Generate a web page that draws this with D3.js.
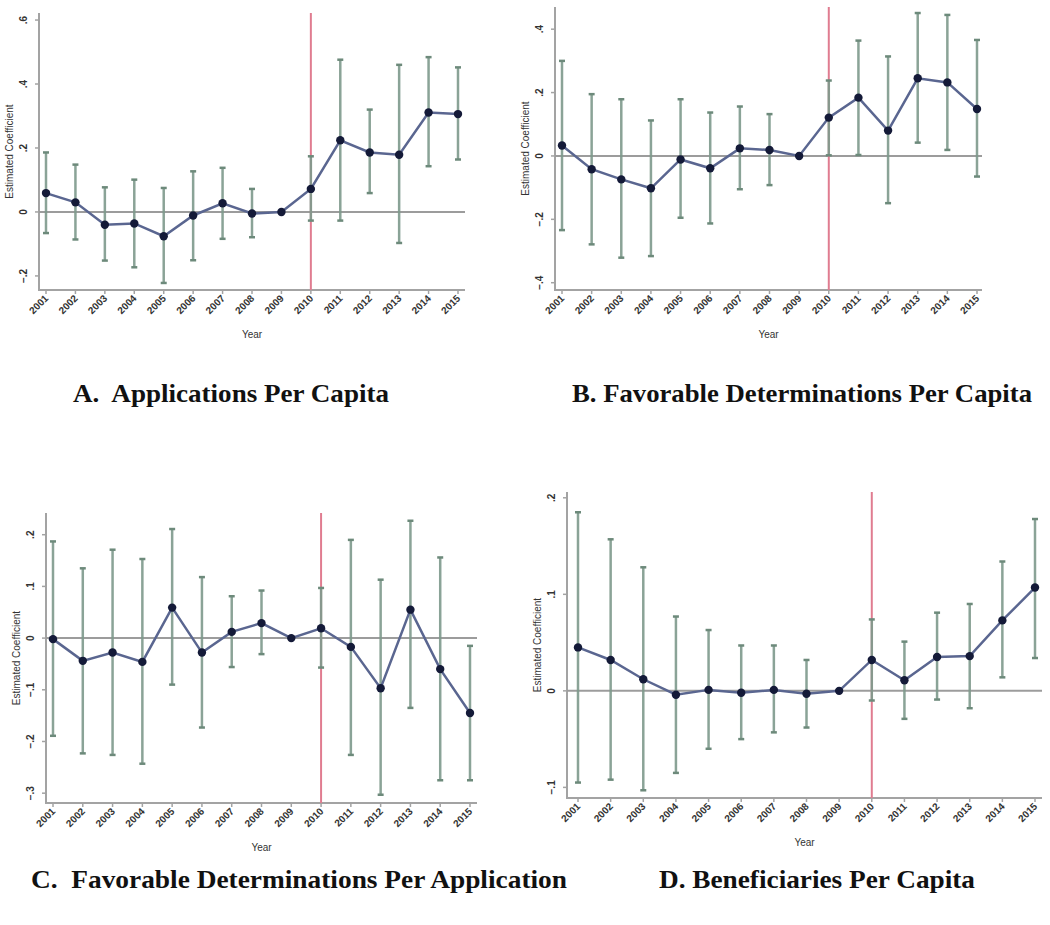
<!DOCTYPE html>
<html>
<head>
<meta charset="utf-8">
<script src="https://cdn.jsdelivr.net/npm/d3@7"></script>
<style>
  body { margin: 0; background: #fff; }
  svg { display: block; }
  .ptitle { white-space: pre; }
</style>
</head>
<body>
<svg id="chart" width="1050" height="925"></svg>
<script>
const years = d3.range(2001, 2016);
const eventYear = 2010;

// A. Applications per capita
const coefA = [0.059, 0.030, -0.040, -0.036, -0.076, -0.011, 0.027, -0.005, 0, 0.072, 0.224, 0.186, 0.179, 0.311, 0.306];
const lowA  = [-0.066, -0.086, -0.152, -0.173, -0.222, -0.151, -0.084, -0.079, 0, -0.027, -0.027, 0.059, -0.097, 0.143, 0.164];
const highA = [0.186, 0.148, 0.077, 0.101, 0.075, 0.127, 0.138, 0.072, 0, 0.174, 0.476, 0.320, 0.460, 0.484, 0.452];
const ticksA = [0.6, 0.4, 0.2, 0, -0.2];

// B. Favorable determinations per capita
const coefB = [0.033, -0.042, -0.074, -0.102, -0.011, -0.039, 0.024, 0.019, 0, 0.121, 0.184, 0.080, 0.245, 0.232, 0.148];
const lowB  = [-0.234, -0.279, -0.321, -0.316, -0.195, -0.213, -0.105, -0.092, 0, 0.002, 0.003, -0.149, 0.042, 0.019, -0.065];
const highB = [0.300, 0.195, 0.179, 0.112, 0.179, 0.137, 0.156, 0.132, 0, 0.238, 0.364, 0.314, 0.451, 0.445, 0.366];
const ticksB = [0.4, 0.2, 0, -0.2, -0.4];

// C. Favorable determinations per application
const coefC = [-0.002, -0.044, -0.028, -0.046, 0.059, -0.028, 0.012, 0.029, 0, 0.019, -0.017, -0.097, 0.055, -0.060, -0.145];
const lowC  = [-0.189, -0.223, -0.226, -0.243, -0.090, -0.173, -0.056, -0.031, 0, -0.057, -0.226, -0.303, -0.135, -0.275, -0.275];
const highC = [0.187, 0.135, 0.171, 0.153, 0.211, 0.118, 0.081, 0.092, 0, 0.097, 0.190, 0.113, 0.227, 0.156, -0.015];
const ticksC = [0.2, 0.1, 0, -0.1, -0.2, -0.3];

// D. Beneficiaries per capita
const coefD = [0.045, 0.032, 0.012, -0.004, 0.001, -0.002, 0.001, -0.003, 0, 0.032, 0.011, 0.035, 0.036, 0.073, 0.107];
const lowD  = [-0.095, -0.092, -0.103, -0.085, -0.060, -0.050, -0.043, -0.038, 0, -0.010, -0.029, -0.009, -0.018, 0.014, 0.034];
const highD = [0.185, 0.157, 0.128, 0.077, 0.063, 0.047, 0.047, 0.032, 0, 0.074, 0.051, 0.081, 0.090, 0.134, 0.178];
const ticksD = [0.2, 0.1, 0, -0.1];

const titles = [
    "A.  Applications Per Capita",
    "B. Favorable Determinations Per Capita",
    "C.  Favorable Determinations Per Application",
    "D. Beneficiaries Per Capita"
];

const svg = d3.select("#chart");

function fmt(v) {
    if (v === 0) return "0";
    return d3.format(".1f")(v).replace("0.", ".");
}

function drawPanel(p) {
    const g = svg.append("g");
    const x = d3.scalePoint().domain(years).range([p.first, p.last]);
    const y = d3.scaleLinear().domain(p.domain).range([p.bottom, p.top]);
    const rows = years.map((yr, i) => ({ year: yr, coef: p.coef[i], low: p.low[i], high: p.high[i] }));

    // axes lines
    g.append("line").attr("x1", p.axisX).attr("x2", p.axisX).attr("y1", p.top).attr("y2", p.bottom + 1)
        .attr("stroke", "#a3a3a3").attr("stroke-width", 2);
    g.append("line").attr("x1", p.axisX).attr("x2", p.xEnd).attr("y1", p.bottom).attr("y2", p.bottom)
        .attr("stroke", "#a3a3a3").attr("stroke-width", 2);

    p.ticks.forEach(t => {
        g.append("line").attr("x1", p.axisX - 4).attr("x2", p.axisX).attr("y1", y(t)).attr("y2", y(t))
            .attr("stroke", "#a3a3a3").attr("stroke-width", 1.5);
        g.append("text")
            .attr("transform", `translate(${p.axisX - 12},${y(t)}) rotate(-90)`)
            .attr("text-anchor", "middle")
            .attr("font-family", "Liberation Sans, Arial, sans-serif")
            .attr("font-size", 10).attr("font-weight", "bold").attr("fill", "#333")
            .text(fmt(t));
    });

    years.forEach(yr => {
        g.append("line").attr("x1", x(yr)).attr("x2", x(yr)).attr("y1", p.bottom).attr("y2", p.bottom + 4)
            .attr("stroke", "#a3a3a3").attr("stroke-width", 1.5);
        g.append("text")
            .attr("transform", `translate(${x(yr) + 3},${p.bottom + 9}) rotate(-45)`)
            .attr("text-anchor", "end")
            .attr("font-family", "Liberation Sans, Arial, sans-serif")
            .attr("font-size", 10).attr("font-weight", "bold").attr("fill", "#333")
            .text(yr);
    });

    // axis titles
    g.append("text")
        .attr("transform", `translate(${p.axisX - 26},${(p.top + p.bottom) / 2}) rotate(-90)`)
        .attr("text-anchor", "middle")
        .attr("font-family", "Liberation Sans, Arial, sans-serif")
        .attr("font-size", 10).attr("fill", "#333")
        .text("Estimated Coefficient");
    g.append("text")
        .attr("x", (p.axisX + p.xEnd) / 2).attr("y", p.bottom + 48)
        .attr("text-anchor", "middle")
        .attr("font-family", "Liberation Sans, Arial, sans-serif")
        .attr("font-size", 10).attr("fill", "#333")
        .text("Year");

    // zero line
    g.append("line").attr("x1", p.axisX).attr("x2", p.xEnd).attr("y1", y(0)).attr("y2", y(0))
        .attr("stroke", "#9c9c9c").attr("stroke-width", 2);

    // event year line
    g.append("line").attr("x1", x(eventYear)).attr("x2", x(eventYear)).attr("y1", p.top).attr("y2", p.bottom)
        .attr("stroke", "#e07c90").attr("stroke-width", 2);

    // confidence intervals
    const ci = rows.filter(d => d.low !== d.high);
    g.selectAll(".ci").data(ci).enter().append("line")
        .attr("x1", d => x(d.year)).attr("x2", d => x(d.year))
        .attr("y1", d => y(d.low)).attr("y2", d => y(d.high))
        .attr("stroke", "#7e9a8c").attr("stroke-width", 2.5).attr("opacity", 0.9);
    ["low", "high"].forEach(k => {
        g.selectAll(".cap-" + k).data(ci).enter().append("line")
            .attr("x1", d => x(d.year) - 3).attr("x2", d => x(d.year) + 3)
            .attr("y1", d => y(d[k])).attr("y2", d => y(d[k]))
            .attr("stroke", "#6d8a7b").attr("stroke-width", 2.5);
    });

    // coefficient line + markers
    g.append("path").datum(rows)
        .attr("d", d3.line().x(d => x(d.year)).y(d => y(d.coef)))
        .attr("fill", "none").attr("stroke", "#5a6690").attr("stroke-width", 2.5);
    g.selectAll(".dot").data(rows).enter().append("circle")
        .attr("cx", d => x(d.year)).attr("cy", d => y(d.coef)).attr("r", 4.2)
        .attr("fill", "#141a38");

    // panel title (condensed serif look)
    g.append("text").attr("class", "ptitle")
        .attr("x", p.titleX).attr("y", p.titleY)
        .attr("font-family", "Liberation Serif, Times New Roman, serif")
        .attr("font-size", 25).attr("font-weight", "bold").attr("fill", "#111")
        .attr("textLength", p.titleW).attr("lengthAdjust", "spacingAndGlyphs")
        .text(p.title);
}

drawPanel({ coef: coefA, low: lowA, high: highA, ticks: ticksA, title: titles[0],
    axisX: 39, xEnd: 465, top: 13, bottom: 290, first: 46, last: 458, domain: [-0.244, 0.622],
    titleX: 73, titleY: 402, titleW: 316 });
drawPanel({ coef: coefB, low: lowB, high: highB, ticks: ticksB, title: titles[1],
    axisX: 555, xEnd: 982, top: 7, bottom: 290, first: 562, last: 977, domain: [-0.423, 0.47],
    titleX: 572, titleY: 402, titleW: 460 });
drawPanel({ coef: coefC, low: lowC, high: highC, ticks: ticksC, title: titles[2],
    axisX: 46, xEnd: 477, top: 513, bottom: 803, first: 53, last: 470, domain: [-0.319, 0.242],
    titleX: 31, titleY: 888, titleW: 536 });
drawPanel({ coef: coefD, low: lowD, high: highD, ticks: ticksD, title: titles[3],
    axisX: 567, xEnd: 1042, top: 492, bottom: 798, first: 578, last: 1035, domain: [-0.111, 0.206],
    titleX: 659, titleY: 888, titleW: 316 });
</script>
</body>
</html>
